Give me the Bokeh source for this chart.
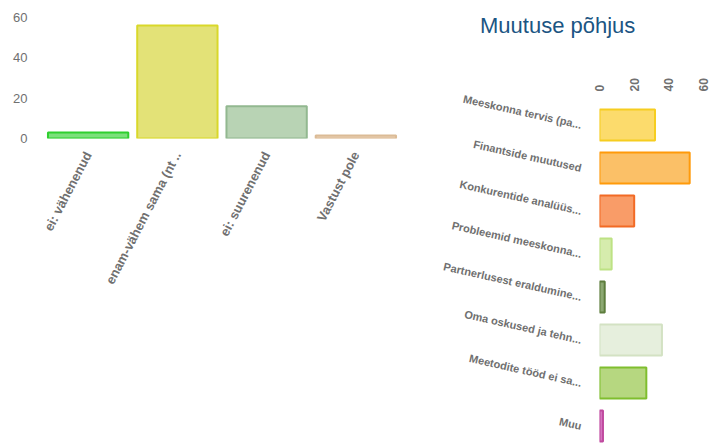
import math
from bokeh.plotting import figure
from bokeh.layouts import row, column
from bokeh.models import Range1d, FactorRange, ColumnDataSource, Div
from bokeh.embed import file_html
from bokeh.resources import INLINE

# ---- left chart data ----
left_cats = ["ei: vähenenud", "enam-vähem sama (nt ..", "ei: suurenenud", "Vastust pole"]
left_vals = [3, 56, 16, 1.5]
left_fill = ["#7be07b", "#e3e277", "#b8d3b4", "#e9cfb2"]
left_line = ["#2fcf2f", "#d9d82a", "#92b890", "#dbbb96"]
left_ticks = [0, 20, 40, 60]

# ---- right chart data ----
right_title = "Muutuse põhjus"
right_cats = ["Meeskonna tervis (pa...", "Finantside muutused", "Konkurentide analüüs...",
              "Probleemid meeskonna...", "Partnerlusest eraldumine...", "Oma oskused ja tehn...",
              "Meetodite tööd ei sa...", "Muu"]
right_vals = [32, 52, 20, 7, 3, 36, 27, 2]
right_fill = ["#fcdb6c", "#fbc067", "#f99c68", "#d6ecad", "#8ca872", "#e6efdd", "#b6d780", "#d474bf"]
right_line = ["#f6cd20", "#ff9a0a", "#f26a25", "#bde284", "#5d7d3d", "#d3e2c3", "#7fbe2e", "#c04a9f"]
right_ticks = [0, 20, 40, 60]

FONT = "Liberation Sans"
GRAY = "#707070"

# ---------- left figure ----------
src_l = ColumnDataSource(dict(x=left_cats, top=left_vals, fill=left_fill, line=left_line))
p1 = figure(x_range=FactorRange(*left_cats), y_range=Range1d(0, 62),
            width=425, height=447, output_backend="svg", toolbar_location=None,
            min_border_left=43, min_border_right=25, min_border_top=13, min_border_bottom=309)
p1.vbar(x="x", top="top", width=0.9, source=src_l, fill_color="fill", line_color="line",
        line_width=2)
p1.outline_line_color = None
p1.xgrid.grid_line_color = None
p1.ygrid.grid_line_color = None
p1.yaxis.ticker = left_ticks
p1.yaxis.axis_line_color = None
p1.yaxis.major_tick_line_color = None
p1.yaxis.minor_tick_line_color = None
p1.yaxis.major_label_text_color = GRAY
p1.yaxis.major_label_text_font = FONT
p1.yaxis.major_label_text_font_size = "13px"
p1.yaxis.major_label_standoff = 10
p1.xaxis.axis_line_color = None
p1.xaxis.major_tick_line_color = None
p1.xaxis.major_label_orientation = 1.09
p1.xaxis.major_label_text_color = GRAY
p1.xaxis.major_label_text_font = FONT
p1.xaxis.major_label_text_font_size = "13px"
p1.xaxis.major_label_text_font_style = "bold"
p1.xaxis.major_label_standoff = 8

# ---------- right title ----------
title_div = Div(text=right_title, width=289, height=40, margin=(0, 0, 0, 0),
                styles={"font-family": FONT, "font-size": "22px", "color": "#1b5583",
                        "padding-left": "55px", "padding-top": "13px",
                        "line-height": "normal", "white-space": "nowrap"})

# ---------- right figure ----------
src_r = ColumnDataSource(dict(y=right_cats, right=right_vals, fill=right_fill, line=right_line))
p2 = figure(y_range=FactorRange(*right_cats[::-1]), x_range=Range1d(0, 64),
            width=289, height=407, output_backend="svg", toolbar_location=None,
            x_axis_location="above",
            min_border_left=174, min_border_right=4, min_border_bottom=0, min_border_top=63)
p2.hbar(y="y", right="right", height=0.72, source=src_r, fill_color="fill", line_color="line",
        line_width=2)
p2.outline_line_color = None
p2.xgrid.grid_line_color = None
p2.ygrid.grid_line_color = None
p2.xaxis.ticker = right_ticks
p2.xaxis.axis_line_color = None
p2.xaxis.major_tick_line_color = None
p2.xaxis.minor_tick_line_color = None
p2.xaxis.major_label_orientation = math.pi / 2
p2.xaxis.major_label_text_color = GRAY
p2.xaxis.major_label_text_font = FONT
p2.xaxis.major_label_text_font_size = "12px"
p2.xaxis.major_label_text_font_style = "bold"
p2.xaxis.major_label_standoff = 6
p2.yaxis.axis_line_color = None
p2.yaxis.major_tick_line_color = None
p2.yaxis.major_label_orientation = -0.22
p2.yaxis.major_label_text_color = GRAY
p2.yaxis.major_label_text_font = FONT
p2.yaxis.major_label_text_font_size = "11px"
p2.yaxis.major_label_text_font_style = "bold"
p2.yaxis.major_label_standoff = 12

layout = row(column(p1), column(title_div, p2, spacing=0), spacing=0)
open("out.html", "w").write(file_html(layout, INLINE))
